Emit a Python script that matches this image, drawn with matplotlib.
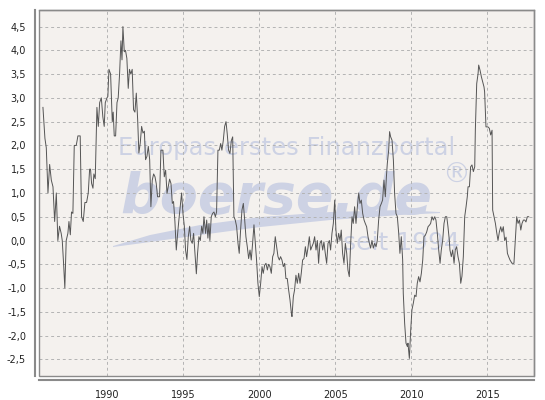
import numpy as np
import matplotlib.pyplot as plt
from matplotlib.patches import Rectangle, Polygon
from matplotlib.ticker import FuncFormatter

# decimal years and values
years = [1985.77, 1985.90, 1985.99, 1986.10, 1986.21, 1986.32, 1986.43, 1986.54, 1986.65, 1986.75,
         1986.86, 1986.97, 1987.04, 1987.13, 1987.21, 1987.30, 1987.41, 1987.48, 1987.57, 1987.65,
         1987.74, 1987.83, 1987.96, 1988.07, 1988.22, 1988.31, 1988.42, 1988.53, 1988.64, 1988.75,
         1988.84, 1988.90, 1988.97, 1989.06, 1989.12, 1989.21, 1989.32, 1989.41, 1989.50, 1989.61,
         1989.71, 1989.80, 1989.87, 1989.98, 1990.04, 1990.11, 1990.22, 1990.33, 1990.39, 1990.46,
         1990.55, 1990.64, 1990.72, 1990.81, 1990.90, 1990.97, 1991.03, 1991.12, 1991.20, 1991.29,
         1991.38, 1991.46, 1991.55, 1991.64, 1991.73, 1991.82, 1991.91, 1992.00, 1992.08, 1992.17,
         1992.26, 1992.35, 1992.44, 1992.52, 1992.61, 1992.70, 1992.79, 1992.87, 1992.96, 1993.05,
         1993.14, 1993.22, 1993.31, 1993.44, 1993.53, 1993.66, 1993.75, 1993.84, 1993.93, 1994.01,
         1994.10, 1994.19, 1994.28, 1994.36, 1994.45, 1994.54, 1994.63, 1994.71, 1994.80, 1994.89,
         1994.98, 1995.07, 1995.15, 1995.24, 1995.33, 1995.42, 1995.50, 1995.59, 1995.68, 1995.77,
         1995.86, 1995.94, 1996.03, 1996.12, 1996.21, 1996.29,
         1996.36, 1996.47, 1996.54, 1996.62, 1996.69, 1996.75, 1996.84, 1996.93, 1997.02, 1997.11,
         1997.19, 1997.28, 1997.37, 1997.46, 1997.54, 1997.63, 1997.72, 1997.81, 1997.89, 1997.98,
         1998.07, 1998.16, 1998.25, 1998.33, 1998.42, 1998.51, 1998.60, 1998.68, 1998.77, 1998.86,
         1998.95, 1999.04, 1999.12, 1999.21, 1999.30, 1999.39, 1999.47, 1999.56, 1999.65, 1999.74,
         1999.82, 1999.91, 2000.00, 2000.09, 2000.18, 2000.26, 2000.35, 2000.44, 2000.53, 2000.61,
         2000.70, 2000.79, 2000.88, 2000.96, 2001.05, 2001.14, 2001.23, 2001.32, 2001.40, 2001.49,
         2001.58, 2001.67, 2001.75,
         2001.84, 2001.93, 2002.02, 2002.11, 2002.15, 2002.24, 2002.32, 2002.41, 2002.50, 2002.59,
         2002.68, 2002.76, 2002.85, 2002.94, 2003.03, 2003.11, 2003.20, 2003.29, 2003.38, 2003.46,
         2003.55, 2003.64, 2003.73, 2003.82, 2003.90, 2003.99, 2004.08, 2004.17, 2004.25, 2004.34,
         2004.43, 2004.52, 2004.61, 2004.69, 2004.78, 2004.87, 2004.96, 2005.04, 2005.13, 2005.22,
         2005.31, 2005.39, 2005.48, 2005.57, 2005.66, 2005.75, 2005.83, 2005.92, 2006.01, 2006.10,
         2006.18, 2006.27, 2006.36, 2006.45, 2006.54, 2006.62, 2006.71, 2006.80, 2006.89, 2006.97,
         2007.06, 2007.15,
         2007.24, 2007.32, 2007.41, 2007.50, 2007.59, 2007.68, 2007.76, 2007.85, 2007.94, 2008.03,
         2008.11, 2008.20, 2008.29, 2008.36, 2008.42, 2008.51, 2008.57, 2008.64, 2008.73, 2008.82,
         2008.90, 2008.99, 2009.08, 2009.17, 2009.25, 2009.34, 2009.43, 2009.47, 2009.56, 2009.65,
         2009.74, 2009.78, 2009.87, 2009.96, 2010.04, 2010.13, 2010.22, 2010.31, 2010.39, 2010.48,
         2010.57, 2010.66, 2010.75, 2010.83, 2010.92, 2011.01, 2011.10, 2011.21, 2011.27, 2011.36,
         2011.45, 2011.54, 2011.62, 2011.71, 2011.80, 2011.89, 2011.97, 2012.06, 2012.15, 2012.24,
         2012.33, 2012.41, 2012.50,
         2012.54, 2012.63, 2012.72, 2012.81, 2012.89, 2012.98, 2013.07, 2013.16, 2013.25, 2013.33,
         2013.42, 2013.51, 2013.60, 2013.68, 2013.73, 2013.82, 2013.90, 2013.99, 2014.08, 2014.17,
         2014.21, 2014.30, 2014.39, 2014.43, 2014.52, 2014.61, 2014.69, 2014.78, 2014.82, 2014.91,
         2015.04, 2015.13, 2015.22, 2015.31, 2015.35, 2015.44, 2015.53, 2015.61, 2015.70, 2015.79,
         2015.88, 2015.96, 2016.05, 2016.14, 2016.23, 2016.32, 2016.40, 2016.49, 2016.62, 2016.75,
         2016.84, 2016.93, 2017.02, 2017.11, 2017.20, 2017.28, 2017.37, 2017.46, 2017.54, 2017.63,
         2017.72]

values = [2.80, 2.15, 1.95, 1.00, 1.60, 1.27, 1.13, 0.40, 1.00, 0.00,
          0.30, 0.15, 0.00, -0.50, -1.00, 0.00, 0.15, 0.40, 0.12, 0.60,
          0.57, 2.00, 2.00, 2.20, 2.20, 0.50, 0.40, 0.80, 0.80, 1.00,
          1.50, 1.50, 1.20, 1.10, 1.40, 1.30, 2.80, 2.40, 2.90, 3.00,
          2.60, 2.40, 2.90, 3.00, 3.03, 3.60, 3.50, 2.50, 2.70, 2.20,
          2.20, 2.90, 3.00, 3.50, 4.20, 3.80, 4.50, 3.97, 4.00, 3.83,
          3.20, 3.60, 3.50, 3.60, 2.75, 2.70, 3.10, 2.54, 1.84, 2.05,
          2.40, 2.26, 2.30, 1.70, 1.77, 1.98, 1.70, 0.71, 1.27, 1.40,
          1.34, 1.20, 0.92, 0.92, 1.90, 1.90, 1.34, 1.48, 0.99, 1.13,
          1.29, 1.20, 0.78, 0.82, 0.40, -0.20, 0.15, 0.43, 0.71, 1.00,
          0.57, 0.30, -0.20, -0.40, 0.08, 0.30, 0.00, -0.06, 0.15, -0.27,
          -0.70, -0.27, 0.08, 0.00, 0.30, 0.15,
          0.50, 0.15, 0.43, 0.05, 0.36, 0.00, 0.50, 0.57, 0.60, 0.50,
          0.60, 1.90, 1.90, 2.04, 1.90, 2.10, 2.40, 2.50, 2.25, 1.90,
          1.83, 2.10, 2.18, 0.50, 0.43, 0.29, -0.06, -0.27, 0.22, 0.64,
          0.78, 0.43, 0.08, -0.13, -0.38, -0.20, -0.41, -0.06, 0.33, -0.06,
          -0.41, -0.90, -1.18, -0.90, -0.55, -0.69, -0.52, -0.48, -0.62, -0.50,
          -0.55, -0.69, -0.34, -0.27, 0.08, -0.13, -0.34, -0.41, -0.34, -0.41,
          -0.55, -0.48, -0.80,
          -0.80, -1.04, -1.25, -1.53, -1.60, -1.18, -1.04, -0.73, -0.90, -0.69,
          -0.90, -0.69, -0.41, -0.38, -0.13, -0.34, -0.16, 0.08, -0.20, -0.13,
          -0.06, 0.08, -0.20, 0.00, -0.48, -0.06, 0.00, -0.20, -0.03, -0.27,
          -0.48, -0.06, 0.00, -0.20, 0.15, 0.36, 0.85, 0.22, -0.06, 0.15,
          0.00, 0.22, -0.27, -0.48, -0.06, -0.27, -0.62, -0.76, -0.06, 0.50,
          0.36, 0.71, 0.36, 0.71, 1.00, 0.78, 0.85, 0.57, 0.43, 0.36,
          0.29, 0.08,
          -0.06, -0.16, 0.00, -0.16, -0.06, -0.13, 0.00, 0.43, 0.71, 0.78,
          0.85, 1.27, 0.92, 1.34, 1.62, 1.90, 2.29, 2.18, 2.11, 1.69,
          0.99, 0.57, 0.50, 0.15, -0.27, 0.08, -0.41, -1.11, -1.74, -2.16,
          -2.23, -2.16, -2.48, -1.88, -1.46, -1.32, -1.15, -1.18, -0.90, -0.76,
          -0.87, -0.69, -0.41, 0.08, 0.11, 0.18, 0.29, 0.33, 0.36, 0.50,
          0.43, 0.50, 0.43, 0.15, -0.20, -0.48, -0.20, 0.00, 0.36, 0.50,
          0.50, 0.29, 0.00,
          -0.20, -0.34, -0.20, -0.48, -0.20, -0.13, -0.34, -0.48, -0.90, -0.75,
          -0.34, 0.50, 0.71, 0.92, 1.13, 1.13, 1.55, 1.59, 1.45, 1.55,
          2.32, 3.30, 3.51, 3.69, 3.58, 3.44, 3.34, 3.23, 3.13, 2.39,
          2.39, 2.36, 2.22, 2.32, 0.64, 0.50, 0.36, 0.18, 0.00, 0.18,
          0.29, 0.18, 0.29, 0.00, 0.07, -0.27, -0.34, -0.41, -0.48, -0.48,
          0.00, 0.50, 0.36, 0.43, 0.22, 0.36, 0.43, 0.43, 0.39, 0.50,
          0.50]

x_ticks = [1990, 1995, 2000, 2005, 2010, 2015]
y_ticks = np.arange(-2.5, 4.51, 0.5)

wm_color = '#cdd2e4'

fig = plt.figure(figsize=(5.45, 4.0), dpi=100)
ax = fig.add_axes([0.0721, 0.06, 0.9072, 0.914])
ax.set_facecolor('#f4f1ee')

# watermark
ax.text(0.501, 0.604, "Europas erstes Finanzportal", transform=ax.transAxes, ha='center',
        va='baseline', fontsize=17.5, color=wm_color, zorder=1.5)
ax.text(0.163, 0.446, "boerse.de", transform=ax.transAxes, ha='left', va='baseline',
        fontsize=40, fontweight='bold', fontstyle='italic', color=wm_color, zorder=1.5)
ax.text(0.842, 0.55, "\u00ae", transform=ax.transAxes, ha='center', va='center',
        fontsize=20, color=wm_color, zorder=1.5)
ax.text(0.851, 0.345, "seit 1994", transform=ax.transAxes, ha='right', va='baseline',
        fontsize=18, color=wm_color, zorder=1.5)
swoosh_px = [(113, 246), (150, 235), (200, 225), (260, 217), (330, 212), (400, 210), (440, 212),
             (440, 213), (400, 215), (330, 220), (260, 227), (200, 235), (150, 242), (113, 247)]
swoosh = [((px - 39.3) / 494.4, (376 - py) / 365.7) for px, py in swoosh_px]
ax.add_patch(Polygon(swoosh, closed=True, transform=ax.transAxes, fc=wm_color, ec='none', zorder=1.5))

ax.plot(years, values, color='#555555', lw=0.7, zorder=3)

ax.set_xlim(1985.53, 2018.05)
ax.set_ylim(-2.85, 4.84)
ax.set_xticks(x_ticks)
ax.set_yticks(y_ticks)
ax.yaxis.set_major_formatter(FuncFormatter(lambda v, p: f"{v:.1f}".replace('.', ',')))
ax.grid(True, color='#b4b4b4', ls=(0, (3, 3)), lw=0.7, zorder=1)
ax.tick_params(axis='y', length=0, labelsize=7, pad=6.5, colors='#222222')
ax.tick_params(axis='x', length=0, labelsize=7, pad=7, colors='#222222')

for side in ['left', 'bottom']:
    ax.spines[side].set_position(('outward', 3))
    ax.spines[side].set_color('#8a8a8a')
    ax.spines[side].set_linewidth(1.5)
for side in ['top', 'right']:
    ax.spines[side].set_color('#8a8a8a')
    ax.spines[side].set_linewidth(1.0)
ax.add_patch(Rectangle((0, 0), 1, 1, transform=ax.transAxes, fill=False, ec='#8a8a8a',
                       lw=1.0, clip_on=False, zorder=4))

plt.savefig('out.png', dpi=100)
